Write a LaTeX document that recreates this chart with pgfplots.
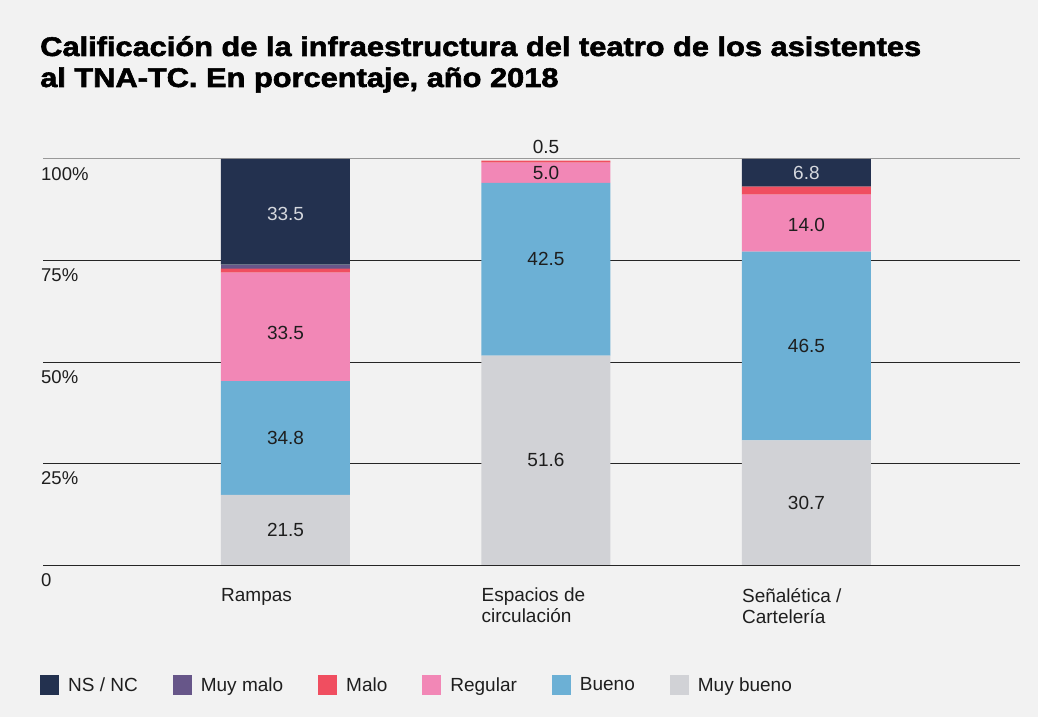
\documentclass[border=0pt]{standalone}
\usepackage{fontspec}
\setmainfont{Liberation Sans}
\newfontfamily\titlefont[FakeBold=2]{Liberation Sans}
\usepackage{pgfplots}
\usepackage{pgfplotstable}
\pgfplotsset{compat=1.18}
\definecolor{bg}{HTML}{F2F2F2}
\definecolor{nsnc}{HTML}{23314F}
\definecolor{muymalo}{HTML}{675689}
\definecolor{malo}{HTML}{F04E60}
\definecolor{regular}{HTML}{F287B6}
\definecolor{bueno}{HTML}{6CB0D5}
\definecolor{muybueno}{HTML}{D1D2D6}
\definecolor{lbl}{HTML}{1E1E1E}
\definecolor{lbllight}{HTML}{D5D8DE}
\protected\def\up#1#2{\raisebox{#1pt}[\height][\depth]{#2}}

\pgfplotstableread{
x v lab
0 17.3 21.5
1 51.6 51.6
2 30.7 30.7
}\tmuybueno
\pgfplotstableread{
x v lab
0 28.0 34.8
1 42.5 {\up{10}{42.5}}
2 46.5 46.5
}\tbueno
\pgfplotstableread{
x v lab
0 26.7 {\up{-6}{33.5}}
1 5.0 5.0
2 14.0 {\up{-2}{14.0}}
}\tregular
\pgfplotstableread{
x v lab
0 1.0 {}
1 0.5 0.5
2 2.0 {}
}\tmalo
\pgfplotstableread{
x v lab
0 1.0 {}
1 0.0 {}
2 0.0 {}
}\tmuymalo
\pgfplotstableread{
x v lab
0 26.0 {\up{-2}{33.5}}
1 0.0 {}
2 6.8 6.8
}\tnsnc

\newcommand{\txt}{\fontsize{19}{21}\selectfont}
\newcommand{\ytxt}{\fontsize{18.5}{21}\selectfont}
\pgfplotsset{
  sq/.style={legend image code/.code={\fill[##1] (0pt,-10pt) rectangle (19pt,10pt); \path (26pt,0pt);}},
  cl/.style={nodes near coords, nodes near coords style={anchor=center, font=\txt, text=lbl}},
}

\begin{document}
\begin{tikzpicture}[x=1pt,y=1pt]
\path[use as bounding box, fill=bg] (0,0) rectangle (1038,717);
\node[anchor=base west, inner sep=0pt, font=\fontsize{27}{31}\selectfont\titlefont\bfseries, xscale=1.14] at (40,661) {Calificación de la infraestructura del teatro de los asistentes};
\node[anchor=base west, inner sep=0pt, font=\fontsize{27}{31}\selectfont\titlefont\bfseries, xscale=1.14] at (40,630) {al TNA-TC. En porcentaje, año 2018};
\begin{axis}[
  at={(43pt,152pt)}, anchor=south west, scale only axis,
  width=977pt, height=406pt,
  xmin=-0.931, xmax=2.820, ymin=0, ymax=100,
  ybar stacked, bar width=129pt,
  clip=false,
  axis line style={draw=none}, major tick length=0pt,
  ytick={0,25,50,75}, yticklabels={0,25\%,50\%,75\%},
  extra y ticks={100}, extra y tick labels={100\%},
  extra y tick style={grid style={color=black!40, line width=1pt}},
  ymajorgrids, grid style={color=black!85, line width=0.9pt},
  yticklabel style={anchor=north west, inner sep=0pt, xshift=-2pt, yshift=-8pt, font=\ytxt, text=lbl},
  xtick={0,1,2},
  xticklabels={Rampas,{Espacios de\\circulación},{Señalética /\\Cartelería}},
  xticklabel style={anchor=north west, align=left, inner sep=0pt, xshift=-64.5pt, yshift=-23pt, font=\txt, text=lbl},
  point meta=explicit symbolic,
  legend columns=6, reverse legend,
  legend style={at={(-0.0031,-0.2956)}, anchor=west, draw=none, fill=none, inner sep=0pt, font=\txt, text=lbl,
    /tikz/every even column/.append style={column sep=33pt}},
]
\addplot[fill=muybueno, draw=none, sq, cl] table[x=x,y=v,meta=lab]{\tmuybueno};
\addlegendentry{Muy bueno}
\addplot[fill=bueno, draw=none, sq, cl] table[x=x,y=v,meta=lab]{\tbueno};
\addlegendentry{Bueno}
\addplot[fill=regular, draw=none, sq, cl] table[x=x,y=v,meta=lab]{\tregular};
\addlegendentry{Regular}
\addplot[fill=malo, draw=none, sq, nodes near coords, nodes near coords style={anchor=base, yshift=8pt, font=\txt, text=lbl}] table[x=x,y=v,meta=lab]{\tmalo};
\addlegendentry{Malo}
\addplot[fill=muymalo, draw=none, sq] table[x=x,y=v,meta=lab]{\tmuymalo};
\addlegendentry{Muy malo}
\addplot[fill=nsnc, draw=none, sq, cl, nodes near coords style={text=lbllight}] table[x=x,y=v,meta=lab]{\tnsnc};
\addlegendentry{NS / NC}
\end{axis}
\end{tikzpicture}
\end{document}
